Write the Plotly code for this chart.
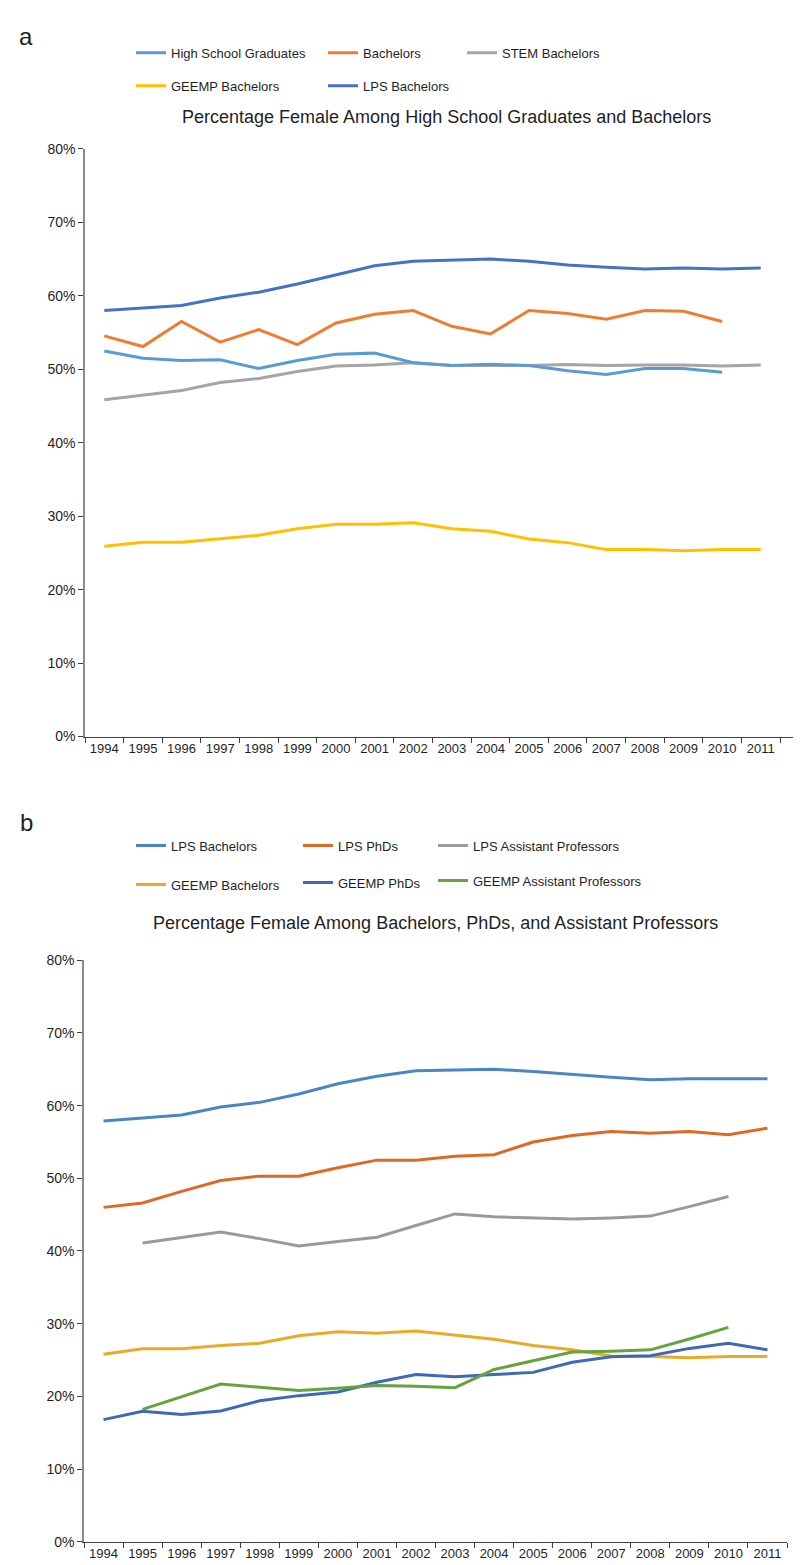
import plotly.graph_objects as go

W, H = 801, 1565

years = ["1994", "1995", "1996", "1997", "1998", "1999", "2000", "2001", "2002",
         "2003", "2004", "2005", "2006", "2007", "2008", "2009", "2010", "2011"]

# Panel a
a_hs_grads = [52.5, 51.5, 51.2, 51.3, 50.1, 51.2, 52.05, 52.2, 50.9, 50.5, 50.7, 50.5,
              49.8, 49.3, 50.1, 50.1, 49.6, None]
a_bachelors = [54.55, 53.1, 56.5, 53.7, 55.4, 53.35, 56.3, 57.5, 58.0, 55.85, 54.8, 58.0,
               57.6, 56.8, 58.0, 57.9, 56.5, None]
a_stem = [45.85, 46.5, 47.1, 48.2, 48.75, 49.7, 50.45, 50.6, 50.9, 50.5, 50.5, 50.5,
          50.65, 50.5, 50.6, 50.6, 50.45, 50.6]
a_geemp = [25.9, 26.45, 26.45, 26.9, 27.4, 28.3, 28.9, 28.9, 29.1, 28.3, 27.95, 26.9,
           26.4, 25.45, 25.45, 25.3, 25.45, 25.45]
a_lps = [58.0, 58.4, 58.7, 59.7, 60.5, 61.6, 62.9, 64.1, 64.7, 64.8, 65.0, 64.7,
         64.2, 63.9, 63.65, 63.8, 63.65, 63.8]

# Panel b
b_lps_bach = [57.9, 58.35, 58.7, 59.8, 60.45, 61.6, 63.0, 64.05, 64.8, 64.9, 65.0, 64.7,
              64.25, 63.9, 63.55, 63.7, 63.7, 63.7]
b_lps_phd = [46.0, 46.6, 48.2, 49.7, 50.3, 50.3, 51.45, 52.5, 52.5, 53.05, 53.25, 55.0,
             55.9, 56.45, 56.2, 56.45, 56.0, 56.9]
b_lps_ap = [None, 41.1, 41.9, 42.6, 41.7, 40.7, 41.3, 41.9, 43.5, 45.1, 44.7, 44.55,
            44.4, 44.55, 44.8, 46.1, 47.5, None]
b_geemp_bach = [25.8, 26.55, 26.55, 27.0, 27.3, 28.35, 28.9, 28.7, 29.0, 28.4, 27.85, 27.0,
                26.4, 25.55, 25.5, 25.3, 25.5, 25.5]
b_geemp_phd = [16.8, 17.95, 17.5, 18.0, 19.4, 20.1, 20.6, 21.95, 23.0, 22.7, 23.0, 23.3,
               24.7, 25.45, 25.6, 26.6, 27.3, 26.4]
b_geemp_ap = [None, 18.2, 19.95, 21.7, 21.25, 20.8, 21.1, 21.5, 21.4, 21.2, 23.7, 24.9,
              26.1, 26.2, 26.4, 27.9, 29.5, None]

FONT = "Liberation Sans"
TXT = "#1f1f1f"

fig = go.Figure()


def add(y, name, color, xa, ya, legend):
    fig.add_trace(go.Scatter(
        x=years, y=y, name=name, mode="lines",
        line=dict(color=color, width=3),
        xaxis=xa, yaxis=ya, legend=legend, legendgroup=name,
        connectgaps=False, hoverinfo="skip"))


add(a_stem, "STEM Bachelors", "#a5a5a5", "x", "y", "legend3")
add(a_hs_grads, "High School Graduates", "#5b9bd5", "x", "y", "legend")
add(a_bachelors, "Bachelors", "#ed7d31", "x", "y", "legend2")
add(a_geemp, "GEEMP Bachelors", "#ffc000", "x", "y", "legend")
add(a_lps, "LPS Bachelors", "#4472c4", "x", "y", "legend2")

add(b_lps_bach, "LPS Bachelors", "#4a86c5", "x2", "y2", "legend4")
add(b_geemp_bach, "GEEMP Bachelors", "#e8ab27", "x2", "y2", "legend4")
add(b_lps_phd, "LPS PhDs", "#dc6a27", "x2", "y2", "legend5")
add(b_geemp_phd, "GEEMP PhDs", "#3f69b6", "x2", "y2", "legend5")
add(b_lps_ap, "LPS Assistant Professors", "#9a9a9a", "x2", "y2", "legend6")
add(b_geemp_ap, "GEEMP Assistant Professors", "#66a23e", "x2", "y2", "legend6")


def px_x(v):
    return v / W


def px_y(v):
    return 1 - v / H


xcommon = dict(type="category", tickson="boundaries", ticks="outside", ticklen=5,
               tickcolor="#404040", showline=True, linecolor="#404040", linewidth=1,
               showgrid=False, zeroline=False, fixedrange=True,
               tickfont=dict(family=FONT, size=13, color=TXT))
ycommon = dict(range=[0, 80], dtick=10, ticksuffix="%", ticks="outside", ticklen=5,
               tickcolor="#404040", showline=True, linecolor="#8a8a8a", linewidth=1.5,
               showgrid=False, zeroline=False, fixedrange=True,
               tickfont=dict(family=FONT, size=14, color=TXT))

fig.update_layout(
    width=W, height=H, autosize=False,
    margin=dict(l=0, r=0, t=0, b=0),
    paper_bgcolor="white", plot_bgcolor="white",
    font=dict(family=FONT, color=TXT),
    xaxis=dict(domain=[px_x(77), 1.0], range=[-0.5, 18.25], anchor="y", **xcommon),
    yaxis=dict(domain=[px_y(728), px_y(134.3)], anchor="x", **ycommon),
    xaxis2=dict(domain=[px_x(76), px_x(779)], range=[-0.5, 17.5], anchor="y2", **xcommon),
    yaxis2=dict(domain=[px_y(1541.5), px_y(954)], anchor="x2", **ycommon),
)

leg_font = dict(family=FONT, size=13, color=TXT)


def legend_at(left, top, gap):
    return dict(x=px_x(left), y=px_y(top), xanchor="left", yanchor="top",
                orientation="v", font=leg_font, bgcolor="rgba(0,0,0,0)",
                tracegroupgap=gap, itemclick=False, itemdoubleclick=False)


fig.update_layout(
    legend=legend_at(123, 22, 13),
    legend2=legend_at(315, 22, 13),
    legend3=legend_at(454, 22, 13),
    legend4=legend_at(123, 823, 19),
    legend5=legend_at(290, 823, 17),
    legend6=legend_at(425, 823, 15),
)


def label(text, x, y, size):
    fig.add_annotation(text=text, x=px_x(x), y=px_y(y), xref="paper", yref="paper",
                       xanchor="center", yanchor="middle", showarrow=False,
                       font=dict(family=FONT, size=size, color=TXT))


label("a", 18, 21, 24)
label("b", 18, 815, 24)
label("Percentage Female Among High School Graduates and Bachelors", 438, 102, 18)
label("Percentage Female Among Bachelors, PhDs, and Assistant Professors", 427, 916, 18)

fig.write_html("out.html")
